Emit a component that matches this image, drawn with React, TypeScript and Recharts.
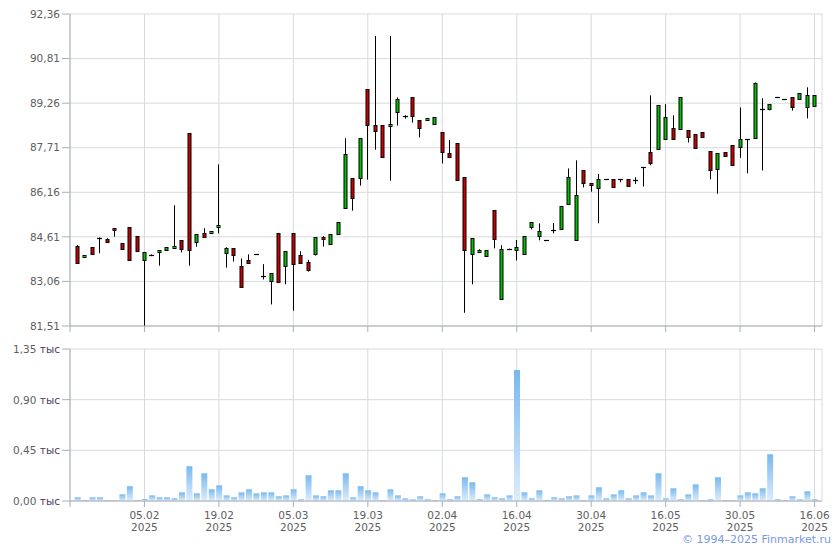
import { ComposedChart, Bar, XAxis, YAxis, CartesianGrid } from 'recharts';

// daily OHLC, one entry per trading day (100 days)
const opens = [
  84.29, 83.9, 84.25, 84.55, 84.54, 84.91, 84.39, 84.94, 84.63, 83.79,
  83.97, 84.06, 84.14, 84.21, 84.5, 88.21, 84.42, 84.73, 84.73, 84.93,
  84.06, 84.22, 83.59, 83.79, 84.0, 83.24, 83.05, 84.73, 83.59, 84.73,
  83.97, 83.72, 83.99, 84.59, 84.35, 84.7, 85.6, 86.65, 86.65, 89.74,
  88.49, 88.49, 88.44, 88.94, 88.82, 89.46, 88.66, 88.66, 88.52, 88.25,
  87.52, 87.86, 86.68, 84.0, 84.07, 83.93, 85.53, 82.44, 84.18, 84.14,
  84.0, 84.94, 84.63, 84.5, 84.86, 84.87, 85.74, 84.5, 86.92, 86.48,
  86.3, 86.61, 86.61, 86.61, 86.61, 86.6, 87.03, 87.55, 87.65, 88.0,
  88.38, 88.35, 88.31, 88.18, 88.25, 87.58, 86.96, 87.55, 87.79, 87.72,
  88.0, 88.04, 89.05, 89.05, 89.46, 89.39, 89.46, 89.39, 89.11, 89.15,
];
const highs = [
  84.33, 83.97, 84.25, 84.59, 84.56, 84.91, 84.39, 84.94, 84.63, 84.07,
  84.0, 84.14, 84.25, 85.71, 84.5, 88.21, 84.7, 84.91, 84.81, 87.13,
  84.25, 84.22, 83.86, 84.0, 84.0, 83.66, 83.34, 84.73, 84.11, 84.73,
  84.11, 83.81, 84.59, 84.64, 84.7, 85.12, 88.04, 86.65, 88.04, 89.74,
  91.6, 88.49, 91.6, 89.46, 88.84, 89.46, 88.66, 88.73, 88.77, 88.25,
  87.98, 87.86, 86.68, 84.56, 84.18, 84.14, 85.53, 84.32, 84.2, 84.5,
  84.63, 85.12, 85.08, 84.5, 85.09, 85.67, 86.99, 87.27, 86.92, 86.48,
  86.8, 86.61, 86.61, 86.61, 86.61, 86.68, 87.03, 89.53, 89.18, 89.22,
  88.84, 89.46, 88.31, 88.18, 88.25, 87.58, 87.52, 87.55, 87.79, 89.11,
  88.0, 89.98, 89.43, 89.22, 89.46, 89.39, 89.46, 89.6, 89.81, 89.53,
];
const lows = [
  83.69, 83.9, 84.0, 84.04, 84.42, 84.62, 84.18, 83.79, 84.11, 81.51,
  83.94, 83.61, 84.14, 84.21, 84.07, 83.61, 84.27, 84.58, 84.73, 84.73,
  83.54, 83.75, 82.86, 83.69, 84.0, 83.13, 82.26, 83.02, 82.96, 82.04,
  83.69, 83.4, 83.96, 84.27, 84.35, 84.7, 85.6, 85.52, 86.39, 86.6,
  87.64, 87.38, 86.56, 88.48, 88.72, 88.58, 88.07, 88.66, 88.52, 87.16,
  87.38, 86.58, 81.97, 82.96, 84.06, 83.93, 84.21, 82.44, 84.15, 83.79,
  84.0, 84.87, 84.49, 84.5, 84.73, 84.87, 85.74, 84.5, 86.33, 86.18,
  85.08, 86.61, 86.33, 86.51, 86.38, 86.45, 86.36, 87.1, 87.65, 88.0,
  88.0, 88.35, 87.89, 87.69, 88.07, 86.61, 86.11, 87.41, 87.1, 87.36,
  86.82, 88.04, 86.92, 89.01, 89.46, 89.39, 89.0, 89.39, 88.73, 89.15,
];
const closes = [
  83.69, 83.97, 84.0, 84.56, 84.42, 84.84, 84.18, 83.79, 84.11, 84.07,
  83.97, 84.14, 84.25, 84.29, 84.18, 84.14, 84.7, 84.58, 84.81, 85.01,
  84.22, 83.99, 82.86, 83.69, 84.0, 83.22, 83.34, 83.02, 84.11, 83.66,
  83.69, 83.45, 84.59, 84.52, 84.7, 85.12, 87.48, 85.95, 88.04, 88.48,
  88.28, 87.38, 88.52, 89.4, 88.82, 88.8, 88.38, 88.73, 88.77, 87.55,
  87.38, 86.58, 84.15, 84.56, 84.15, 84.14, 84.52, 84.18, 84.18, 84.25,
  84.63, 85.12, 84.8, 84.5, 84.86, 85.67, 86.68, 86.05, 86.47, 86.4,
  86.61, 86.61, 86.33, 86.61, 86.38, 86.6, 87.03, 87.17, 89.18, 88.77,
  88.0, 89.46, 88.07, 87.69, 88.07, 86.92, 87.52, 87.41, 87.1, 88.0,
  88.0, 89.95, 89.05, 89.22, 89.46, 89.39, 89.11, 89.6, 89.53, 89.53,
];
// volume, units
const volumes = [
  33, 9, 33, 33, 9, 9, 59, 131, 9, 18,
  50, 33, 33, 24, 77, 309, 68, 246, 104, 139,
  50, 33, 77, 104, 68, 77, 77, 42, 50, 104,
  15, 228, 50, 42, 95, 95, 246, 33, 131, 95,
  77, 9, 104, 50, 24, 15, 42, 15, 9, 68,
  15, 42, 211, 166, 15, 59, 33, 24, 50, 1163,
  77, 24, 95, 9, 33, 24, 42, 50, 9, 50,
  122, 24, 59, 95, 24, 50, 77, 50, 246, 24,
  113, 15, 59, 148, 9, 15, 211, 9, 9, 50,
  77, 68, 113, 415, 15, 9, 42, 15, 86, 15,
];

const tickIndex = [-1, 9, 19, 29, 39, 49, 59, 69, 79, 89, 99];
const tickDates = ['', '05.02', '19.02', '05.03', '19.03', '02.04', '16.04', '30.04', '16.05', '30.05', '16.06'];
const tickYear = '2025';
const priceTicks = [81.51, 83.06, 84.61, 86.16, 87.71, 89.26, 90.81, 92.36];
const volumeTicks = [0, 450, 900, 1350];

const data = opens.map((o, i) => ({
  i,
  o,
  h: highs[i],
  l: lows[i],
  c: closes[i],
  range: [lows[i], highs[i]],
  v: volumes[i],
}));

const FONT = "'DejaVu Sans', Verdana, sans-serif";
const GRID = '#d6dade';
const AXIS = '#a9afb6';
const TEXT = '#5e5e5e';

function Candle(props: any) {
  const { x, y, width, height, payload } = props;
  if (x == null || y == null) return null;
  const cx = Math.floor(x + width / 2) + 0.5;
  const top = Math.min(y, y + height);
  const bot = Math.max(y, y + height);
  const { o, h, l, c } = payload;
  const span = h - l;
  const py = (v: number) => (span > 0 ? top + ((h - v) / span) * (bot - top) : top);
  const bTop = py(Math.max(o, c));
  const bBot = py(Math.min(o, c));
  const up = c > o;
  return (
    <g>
      <line x1={cx} x2={cx} y1={top} y2={bot} stroke="#000" strokeWidth={1} />
      {bBot - bTop < 1.5 ? (
        <line x1={cx - 2.5} x2={cx + 2.5} y1={Math.round(bTop) + 0.5} y2={Math.round(bTop) + 0.5} stroke="#000" strokeWidth={1.2} />
      ) : (
        <rect
          x={cx - 1.5}
          y={Math.round(bTop) + 0.5}
          width={3}
          height={Math.max(1, Math.round(bBot - bTop))}
          fill={up ? '#00c000' : '#cc0000'}
          stroke="#000"
          strokeWidth={1}
        />
      )}
    </g>
  );
}

function VolumeTick(props: any) {
  const { x, y, payload } = props;
  const label = (payload.value / 1000).toFixed(2).replace('.', ',');
  return (
    <text x={x} y={y} dy={4} textAnchor="end" fontFamily={FONT} fontSize={10.5} fill={TEXT}>
      {label}
      <tspan fill="#4f3a5c"> тыс</tspan>
    </text>
  );
}

function DateTick(props: any) {
  const { x, y, payload } = props;
  const k = tickIndex.indexOf(payload.value);
  if (k <= 0) return <g />;
  return (
    <text x={x} y={y} textAnchor="middle" fontFamily={FONT} fontSize={10.5} fill={TEXT}>
      <tspan x={x} dy={9.5}>{tickDates[k]}</tspan>
      <tspan x={x} dy={12.5}>{tickYear}</tspan>
    </text>
  );
}

export default function App() {
  return (
    <div style={{ position: 'absolute', left: 0, top: 0, width: 840, height: 550, background: '#fff' }}>
      <div style={{ position: 'absolute', left: 0, top: 0 }}>
        <ComposedChart width={840} height={340} data={data} margin={{ top: 14, right: 18, bottom: 0, left: 0 }}>
          <CartesianGrid stroke={GRID} ticks={tickIndex as any} />
          <XAxis
            dataKey="i"
            type="number"
            domain={[-1, 100]}
            ticks={tickIndex}
            height={14}
            tickSize={6}
            stroke={AXIS}
            tick={() => <g />}
            interval={0}
          />
          <YAxis
            type="number"
            domain={[81.51, 92.36]}
            ticks={priceTicks}
            width={70}
            tickSize={8}
            stroke={AXIS}
            interval={0}
            tick={{ fill: TEXT, fontSize: 10.5, fontFamily: FONT }}
            tickFormatter={(v: number) => v.toFixed(2).replace('.', ',')}
            allowDataOverflow
          />
          <Bar dataKey="range" shape={<Candle />} isAnimationActive={false} />
        </ComposedChart>
      </div>
      <div style={{ position: 'absolute', left: 0, top: 335 }}>
        <ComposedChart width={840} height={215} data={data} margin={{ top: 14, right: 18, bottom: 13, left: 0 }}>
          <defs>
            <linearGradient id="volGrad" x1="0" y1="0" x2="0" y2="1">
              <stop offset="0%" stopColor="#78b9ef" />
              <stop offset="100%" stopColor="#deedfb" />
            </linearGradient>
          </defs>
          <CartesianGrid stroke={GRID} />
          <XAxis
            dataKey="i"
            type="number"
            domain={[-1, 100]}
            ticks={tickIndex}
            height={36}
            tickSize={6}
            stroke={AXIS}
            tick={<DateTick />}
            interval={0}
          />
          <YAxis
            type="number"
            domain={[0, 1350]}
            ticks={volumeTicks}
            width={70}
            tickSize={8}
            stroke={AXIS}
            interval={0}
            tick={<VolumeTick />}
          />
          <Bar dataKey="v" barSize={6} fill="url(#volGrad)" isAnimationActive={false} />
        </ComposedChart>
      </div>
      <div
        style={{
          position: 'absolute',
          right: 9,
          top: 533,
          fontFamily: FONT,
          fontSize: 11,
          color: '#7b98e6',
          whiteSpace: 'nowrap',
        }}
      >
        © 1994–2025 Finmarket.ru
      </div>
    </div>
  );
}
